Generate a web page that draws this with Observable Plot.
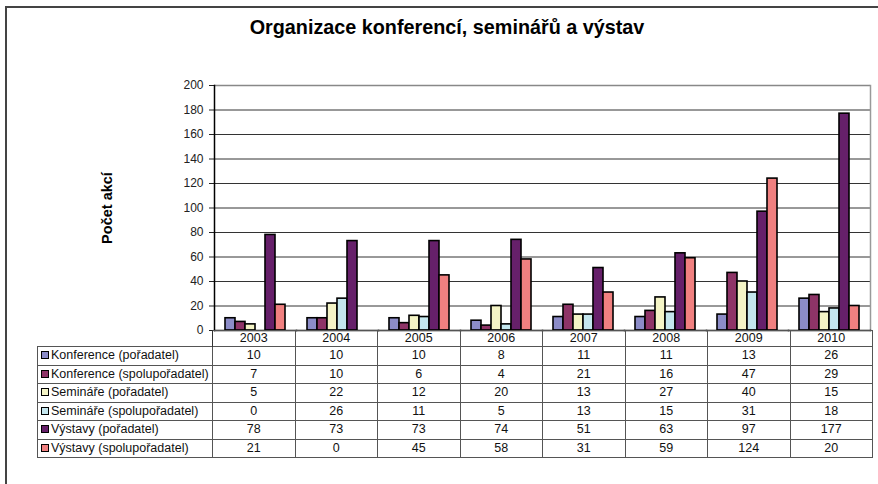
<!DOCTYPE html>
<html>
<head>
<meta charset="utf-8">
<script src="https://cdn.jsdelivr.net/npm/d3@7"></script>
<script src="https://cdn.jsdelivr.net/npm/@observablehq/plot@0.6"></script>
<style>
  html, body { margin: 0; padding: 0; background: #fff; }
  #wrap { position: relative; width: 878px; height: 484px; overflow: hidden; font-family: "Liberation Sans", Arial, sans-serif; }
  #frame { position: absolute; left: 5px; top: 6px; width: 880px; height: 500px; border-left: 2px solid #444; border-top: 2px solid #444; box-sizing: border-box; }
  #title { position: absolute; left: 0; width: 894px; top: 16px; text-align: center; font-weight: bold; font-size: 19.8px; color: #000; }
  #ylabel { position: absolute; left: 107px; top: 208px; transform: translate(-50%, -50%) rotate(-90deg); font-weight: bold; font-size: 14.5px; white-space: nowrap; }
  #chart { position: absolute; left: 0; top: 0; }
  table { position: absolute; left: 37px; top: 330px; border-collapse: collapse; font-size: 12.5px; color: #111; table-layout: fixed; }
  td { padding: 0; height: 17.5px; line-height: 17px; text-align: center; border: 1px solid #555; white-space: nowrap; overflow: hidden; }
  tr.head td { height: 15px; line-height: 15px; }
  td.lab { text-align: left; padding-left: 3px; }
  td.blank { border: none; border-right: 1px solid #333; }
  .sw { display: inline-block; width: 6px; height: 6px; border: 1px solid #000; margin-right: 2px; vertical-align: 0px; }
</style>
</head>
<body>
<div id="wrap">
  <div id="frame"></div>
  <div id="title">Organizace konferencí, seminářů a výstav</div>
  <div id="ylabel">Počet akcí</div>
  <div id="chart"></div>
</div>
<script>
const years = ["2003", "2004", "2005", "2006", "2007", "2008", "2009", "2010"];
const seriesNames = [
  "Konference (pořadatel)",
  "Konference (spolupořadatel)",
  "Semináře (pořadatel)",
  "Semináře (spolupořadatel)",
  "Výstavy (pořadatel)",
  "Výstavy (spolupořadatel)"
];
const konferencePoradatel = [10, 10, 10, 8, 11, 11, 13, 26];
const konferenceSpolu = [7, 10, 6, 4, 21, 16, 47, 29];
const seminarePoradatel = [5, 22, 12, 20, 13, 27, 40, 15];
const seminareSpolu = [0, 26, 11, 5, 13, 15, 31, 18];
const vystavyPoradatel = [78, 73, 73, 74, 51, 63, 97, 177];
const vystavySpolu = [21, 0, 45, 58, 31, 59, 124, 20];
const yTicks = [0, 20, 40, 60, 80, 100, 120, 140, 160, 180, 200];
const colors = ["#8C8CC8", "#8E3467", "#F4F4C6", "#C4E6EE", "#66206A", "#F08080"];

const seriesValues = [konferencePoradatel, konferenceSpolu, seminarePoradatel, seminareSpolu, vystavyPoradatel, vystavySpolu];
const data = [];
seriesNames.forEach((s, i) => years.forEach((y, j) => data.push({ year: y, series: s, value: seriesValues[i][j] })));

const chart = Plot.plot({
  width: 878,
  height: 340,
  marginLeft: 212,
  marginRight: 6,
  marginTop: 85,
  marginBottom: 10,
  style: { fontFamily: "Liberation Sans, Arial, sans-serif", fontSize: "12px", background: "transparent", color: "#222" },
  fx: { domain: years, padding: 0, axis: null },
  x: { domain: seriesNames, padding: 0, paddingOuter: 0.75, axis: null },
  y: { domain: [0, 200], ticks: yTicks, axis: null },
  color: { domain: seriesNames, range: colors },
  marks: [
    Plot.ruleY(yTicks.filter(d => d > 0 && d < 200), { stroke: "#333", strokeWidth: 1 }),
    Plot.ruleY([200], { stroke: "#888", strokeWidth: 1.5 }),
    Plot.barY(data.filter(d => d.value > 0), { fx: "year", x: "series", y: "value", fill: "series", stroke: "#000", strokeWidth: 1.6 }),
    Plot.axisY({ ticks: yTicks, tickSize: 5, tickPadding: 6, label: null, fontSize: 12, anchor: "left" }),
    Plot.frame({ anchor: "left", stroke: "#000", strokeWidth: 1.5, facetAnchor: "left" }),
    Plot.frame({ anchor: "right", stroke: "#999", strokeWidth: 1.5, facetAnchor: "right" }),
    Plot.frame({ anchor: "bottom", stroke: "#000", strokeWidth: 1.5 })
  ]
});
document.getElementById("chart").appendChild(chart);

// data table below the plot
const table = document.createElement("table");
const colg = document.createElement("colgroup");
const c0 = document.createElement("col"); c0.style.width = "175px"; colg.appendChild(c0);
years.forEach(() => { const c = document.createElement("col"); c.style.width = "82.5px"; colg.appendChild(c); });
table.appendChild(colg);
const head = document.createElement("tr"); head.className = "head";
const blank = document.createElement("td"); blank.className = "blank"; head.appendChild(blank);
years.forEach(y => { const td = document.createElement("td"); td.textContent = y; head.appendChild(td); });
table.appendChild(head);
seriesNames.forEach((s, i) => {
  const tr = document.createElement("tr");
  const lab = document.createElement("td"); lab.className = "lab";
  const sw = document.createElement("span"); sw.className = "sw"; sw.style.background = colors[i];
  lab.appendChild(sw); lab.appendChild(document.createTextNode(s));
  tr.appendChild(lab);
  seriesValues[i].forEach(v => { const td = document.createElement("td"); td.textContent = v; tr.appendChild(td); });
  table.appendChild(tr);
});
document.getElementById("wrap").appendChild(table);
</script>
</body>
</html>
